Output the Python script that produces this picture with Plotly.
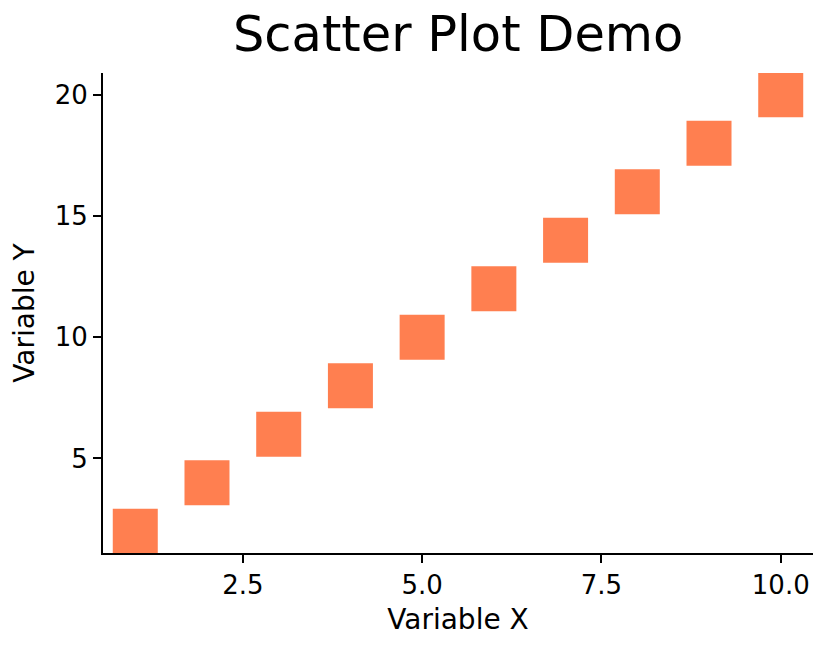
import plotly.graph_objects as go

x_values = [1, 2, 3, 4, 5, 6, 7, 8, 9, 10]
y_values = [2, 4, 6, 8, 10, 12, 14, 16, 18, 20]
x_ticks = [2.5, 5.0, 7.5, 10.0]
x_tick_labels = ['2.5', '5.0', '7.5', '10.0']
y_ticks = [5, 10, 15, 20]

fig = go.Figure()
fig.add_trace(go.Scatter(x=x_values,
                         y=y_values,
                         mode='markers',
                         marker=dict(symbol='square',
                                     size=45,
                                     color='#FF7F50',
                                     line=dict(width=0)),
                         cliponaxis=True))

# matplotlib-like axes: left and bottom spines, outside ticks
axis_style = dict(showline=True,
                  linecolor='black',
                  linewidth=2,
                  ticks='outside',
                  ticklen=8,
                  tickwidth=2,
                  tickcolor='black',
                  showgrid=False,
                  zeroline=False,
                  tickfont=dict(size=26, color='black'))

# the page body has an 8px margin, so the figure is 8px smaller than the window
fig.update_layout(width=817,
                  height=640,
                  plot_bgcolor='white',
                  paper_bgcolor='white',
                  font=dict(family='DejaVu Sans', color='black'),
                  showlegend=False,
                  title=dict(text='Scatter Plot Demo',
                             x=0.551,
                             xanchor='center',
                             y=0.96,
                             yanchor='middle',
                             font=dict(size=49.5)),
                  margin=dict(l=95, r=12, t=65, b=95),
                  xaxis=dict(axis_style,
                             range=[0.55, 10.45],
                             tickvals=x_ticks,
                             ticktext=x_tick_labels,
                             title=dict(text='Variable X', font=dict(size=28), standoff=10)),
                  yaxis=dict(axis_style,
                             range=[1.1, 20.9],
                             tickvals=y_ticks,
                             title=dict(text='Variable Y', font=dict(size=28), standoff=12)))

fig.write_html("out.html")
